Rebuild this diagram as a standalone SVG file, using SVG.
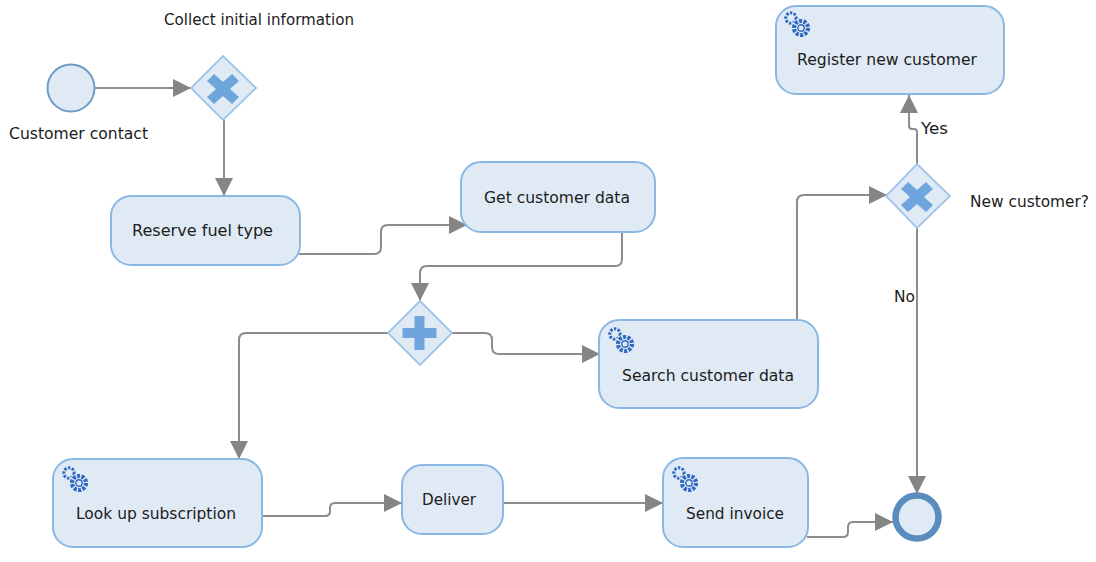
<svg xmlns="http://www.w3.org/2000/svg" width="1096" height="562" viewBox="0 0 1096 562">
<style>
.task{fill:#e0eaf5;stroke:#8ab8e4;stroke-width:2}
.gw{fill:#e0eaf5;stroke:#9fc5ea;stroke-width:1.8}
.mark{fill:#6ea5dc}
.c{fill:none;stroke:#8c8c8c;stroke-width:2}
text{font-family:"DejaVu Sans",Verdana,sans-serif;font-size:15.5px;fill:#1c1c1c}
.m{text-anchor:middle}
.g{fill:none;stroke:#2f68c0}
</style>
<defs>
<marker id="a" markerUnits="userSpaceOnUse" markerWidth="20" markerHeight="20" refX="18" refY="9" orient="auto"><path d="M0 0L18 9L0 18Z" fill="#858585"/></marker>
<g id="gears">
<circle cx="-8" cy="-8" r="5.2" class="g" stroke-width="3" stroke-dasharray="2.4 1.4"/>
<circle cx="2" cy="2" r="10" fill="#e0eaf5"/>
<circle cx="2" cy="2" r="7" class="g" stroke-width="4.2" stroke-dasharray="3 1.4"/>
<circle cx="2" cy="2" r="3.2" class="g" stroke-width="1.4"/>
</g>
</defs>
<g id="connectors">
<path class="c" marker-end="url(#a)" d="M95 88H191"/>
<path class="c" marker-end="url(#a)" d="M224 120V196"/>
<path class="c" marker-end="url(#a)" d="M299 254H374Q381 254 381 247V232Q381 225 388 225H467"/>
<path class="c" marker-end="url(#a)" d="M622 232V259Q622 266 615 266H427Q420 266 420 273V301"/>
<path class="c" marker-end="url(#a)" d="M452 333H485Q492 333 492 340V347Q492 354 499 354H600"/>
<path class="c" marker-end="url(#a)" d="M389 333H246Q239 333 239 340V459"/>
<path class="c" marker-end="url(#a)" d="M797 321V202Q797 195 804 195H887"/>
<path class="c" marker-end="url(#a)" d="M917 164V132Q917 129 914 129H912Q909 129 909 126V95"/>
<path class="c" marker-end="url(#a)" d="M917 228V494"/>
<path class="c" marker-end="url(#a)" d="M261 516H325Q330 516 330 511V508Q330 503 335 503H402"/>
<path class="c" marker-end="url(#a)" d="M503 503H663"/>
<path class="c" marker-end="url(#a)" d="M807 537H843Q848 537 848 532V527Q848 522 853 522H893"/>
</g>
<g id="start"><circle cx="71" cy="88" r="23.5" fill="#e0eaf5" stroke="#6f9cc8" stroke-width="2"/><text x="78.5" y="139" class="m" textLength="139" lengthAdjust="spacingAndGlyphs">Customer contact</text></g>
<g id="gw1"><path class="gw" d="M223 56L256 88L223 120L191 88Z"/><path class="mark" d="M214 74L223 82L232 74L239 81L230 89L239 97L232 104L223 96L214 104L207 97L216 89L207 81Z"/><text x="259" y="25" class="m" textLength="190" lengthAdjust="spacingAndGlyphs">Collect initial information</text></g>
<g id="reserve"><rect class="task" x="111" y="196" width="189" height="69" rx="20"/><text x="202.5" y="236" class="m" textLength="141" lengthAdjust="spacingAndGlyphs">Reserve fuel type</text></g>
<g id="getdata"><rect class="task" x="461" y="162" width="194" height="70" rx="20"/><text x="557" y="203" class="m" textLength="146" lengthAdjust="spacingAndGlyphs">Get customer data</text></g>
<g id="gw2"><path class="gw" d="M420 301L452 333L420 365L388 333Z"/><path class="mark" d="M414.500 316H424.500V328H436.500V338H424.500V350H414.500V338H402.500V328H414.500Z"/></g>
<g id="search"><rect class="task" x="599" y="320" width="219" height="88" rx="20"/><use href="#gears" x="623" y="342"/><text x="708" y="381" class="m" textLength="172" lengthAdjust="spacingAndGlyphs">Search customer data</text></g>
<g id="gw3"><path class="gw" d="M917 164L950 196L917 228L886 196Z"/><path class="mark" d="M908 182L917 190L926 182L933 189L924 197L933 205L926 212L917 204L908 212L901 205L910 197L901 189Z"/><text x="1029.500" y="207" class="m" textLength="119" lengthAdjust="spacingAndGlyphs">New customer?</text></g>
<g id="register"><rect class="task" x="776" y="6" width="228" height="88" rx="20"/><use href="#gears" x="799" y="26"/><text x="887" y="65" class="m" textLength="180" lengthAdjust="spacingAndGlyphs">Register new customer</text></g>
<g id="lookup"><rect class="task" x="53" y="459" width="209" height="88" rx="20"/><use href="#gears" x="77" y="481"/><text x="156" y="519" class="m" textLength="160" lengthAdjust="spacingAndGlyphs">Look up subscription</text></g>
<g id="deliver"><rect class="task" x="402" y="465" width="101" height="69" rx="20"/><text x="449" y="505" class="m" textLength="54" lengthAdjust="spacingAndGlyphs">Deliver</text></g>
<g id="invoice"><rect class="task" x="663" y="458" width="145" height="89" rx="20"/><use href="#gears" x="687" y="481"/><text x="735" y="519" class="m" textLength="98" lengthAdjust="spacingAndGlyphs">Send invoice</text></g>
<g id="end"><circle cx="917" cy="517" r="21.500" fill="#e0eaf5" stroke="#5a8dbd" stroke-width="6.500"/></g>
<g id="labels"><text x="921" y="134" textLength="27" lengthAdjust="spacingAndGlyphs">Yes</text><text x="894" y="302" textLength="21" lengthAdjust="spacingAndGlyphs">No</text></g>
</svg>
